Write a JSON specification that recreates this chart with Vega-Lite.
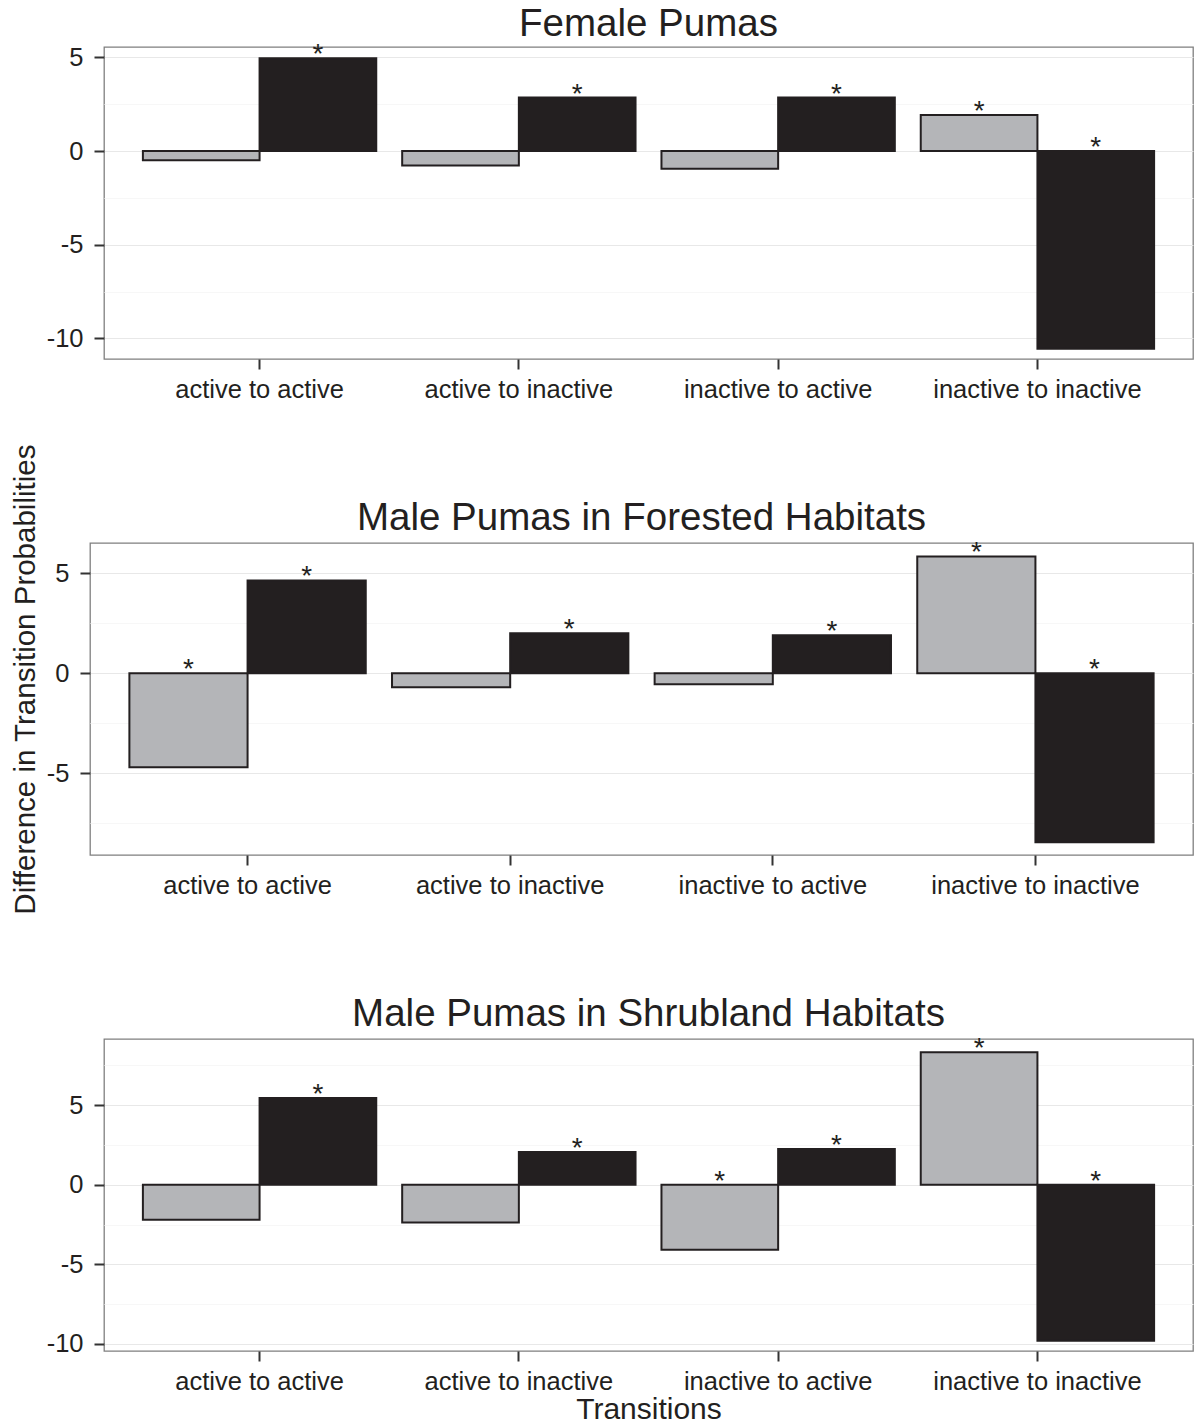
{
  "$schema": "https://vega.github.io/schema/vega-lite/v6.json",
  "padding": {"left": 10, "top": 4, "right": 5, "bottom": 0},
  "title": {"text": "Difference in Transition Probabilities", "orient": "left", "anchor": "middle", "fontSize": 29.5, "offset": -20, "dx": 35, "baseline": "alphabetic", "frame": "bounds"},
  "datasets": {
    "pumas": [
      {"panel": "Female Pumas", "transition": "active to active", "group": "first", "value": -0.5, "sig": ""},
      {"panel": "Female Pumas", "transition": "active to active", "group": "second", "value": 4.95, "sig": "*"},
      {"panel": "Female Pumas", "transition": "active to inactive", "group": "first", "value": -0.78, "sig": ""},
      {"panel": "Female Pumas", "transition": "active to inactive", "group": "second", "value": 2.85, "sig": "*"},
      {"panel": "Female Pumas", "transition": "inactive to active", "group": "first", "value": -0.95, "sig": ""},
      {"panel": "Female Pumas", "transition": "inactive to active", "group": "second", "value": 2.85, "sig": "*"},
      {"panel": "Female Pumas", "transition": "inactive to inactive", "group": "first", "value": 1.92, "sig": "*"},
      {"panel": "Female Pumas", "transition": "inactive to inactive", "group": "second", "value": -10.55, "sig": "*"},
      {"panel": "Male Pumas in Forested Habitats", "transition": "active to active", "group": "first", "value": -4.7, "sig": "*"},
      {"panel": "Male Pumas in Forested Habitats", "transition": "active to active", "group": "second", "value": 4.65, "sig": "*"},
      {"panel": "Male Pumas in Forested Habitats", "transition": "active to inactive", "group": "first", "value": -0.7, "sig": ""},
      {"panel": "Male Pumas in Forested Habitats", "transition": "active to inactive", "group": "second", "value": 2.0, "sig": "*"},
      {"panel": "Male Pumas in Forested Habitats", "transition": "inactive to active", "group": "first", "value": -0.55, "sig": ""},
      {"panel": "Male Pumas in Forested Habitats", "transition": "inactive to active", "group": "second", "value": 1.9, "sig": "*"},
      {"panel": "Male Pumas in Forested Habitats", "transition": "inactive to inactive", "group": "first", "value": 5.85, "sig": "*"},
      {"panel": "Male Pumas in Forested Habitats", "transition": "inactive to inactive", "group": "second", "value": -8.45, "sig": "*"},
      {"panel": "Male Pumas in Shrubland Habitats", "transition": "active to active", "group": "first", "value": -2.2, "sig": ""},
      {"panel": "Male Pumas in Shrubland Habitats", "transition": "active to active", "group": "second", "value": 5.45, "sig": "*"},
      {"panel": "Male Pumas in Shrubland Habitats", "transition": "active to inactive", "group": "first", "value": -2.37, "sig": ""},
      {"panel": "Male Pumas in Shrubland Habitats", "transition": "active to inactive", "group": "second", "value": 2.06, "sig": "*"},
      {"panel": "Male Pumas in Shrubland Habitats", "transition": "inactive to active", "group": "first", "value": -4.08, "sig": "*"},
      {"panel": "Male Pumas in Shrubland Habitats", "transition": "inactive to active", "group": "second", "value": 2.25, "sig": "*"},
      {"panel": "Male Pumas in Shrubland Habitats", "transition": "inactive to inactive", "group": "first", "value": 8.33, "sig": "*"},
      {"panel": "Male Pumas in Shrubland Habitats", "transition": "inactive to inactive", "group": "second", "value": -9.8, "sig": "*"}
    ]
  },
  "concat": [
    {
      "spacing": 0,
      "hconcat": [
        {"width": 1, "height": 1, "data": {"values": []}, "mark": "point", "view": {"stroke": null}},
        {
          "title": {"text": "Female Pumas", "offset": -3},
          "width": 1089,
          "height": 312,
          "data": {"name": "pumas"},
          "transform": [
            {"filter": "datum.panel === 'Female Pumas'"},
            {"calculate": "max(datum.value, 0)", "as": "ylab"}
          ],
          "encoding": {
            "x": {"field": "transition", "type": "nominal", "sort": ["active to active", "active to inactive", "inactive to active", "inactive to inactive"], "scale": {"paddingInner": 0.1, "paddingOuter": 0.15}, "axis": {"title": null, "labelAngle": 0, "labelPadding": 8}},
            "xOffset": {"field": "group", "type": "nominal", "sort": ["first", "second"], "scale": {"paddingInner": 0, "paddingOuter": 0}}
          },
          "layer": [
            {
              "mark": {"type": "bar", "stroke": "#231F20", "strokeWidth": 2},
              "encoding": {
                "y": {"field": "value", "type": "quantitative", "scale": {"domain": [-11.1, 5.55], "nice": false}, "axis": {"title": null, "values": [-10, -7.5, -5, -2.5, 0, 2.5, 5], "labelExpr": "datum.value % 5 === 0 ? '' + datum.value : ''", "tickOpacity": {"condition": {"test": "datum.value % 5 !== 0", "value": 0}, "value": 1}, "gridColor": {"condition": {"test": "datum.value % 5 !== 0", "value": "#F7F7F7"}, "value": "#E8E8E8"}, "labelPadding": 11}},
                "fill": {"field": "group", "type": "nominal", "scale": {"domain": ["first", "second"], "range": ["#B4B5B8", "#231F20"]}, "legend": null}
              }
            },
            {
              "transform": [{"filter": "datum.sig === '*'"}],
              "mark": {"type": "text", "fontSize": 28, "baseline": "alphabetic", "dy": 5, "color": "#231F20"},
              "encoding": {
                "y": {"field": "ylab", "type": "quantitative", "scale": {"domain": [-11.1, 5.55], "nice": false}},
                "text": {"field": "sig"}
              }
            }
          ]
        }
      ]
    },
    {
      "spacing": 0,
      "hconcat": [
        {"width": 1, "height": 1, "data": {"values": []}, "mark": "point", "view": {"stroke": null}},
        {
          "title": "Male Pumas in Forested Habitats",
          "width": 1103,
          "height": 312,
          "data": {"name": "pumas"},
          "transform": [
            {"filter": "datum.panel === 'Male Pumas in Forested Habitats'"},
            {"calculate": "max(datum.value, 0)", "as": "ylab"}
          ],
          "encoding": {
            "x": {"field": "transition", "type": "nominal", "sort": ["active to active", "active to inactive", "inactive to active", "inactive to inactive"], "scale": {"paddingInner": 0.1, "paddingOuter": 0.15}, "axis": {"title": null, "labelAngle": 0, "labelPadding": 8}},
            "xOffset": {"field": "group", "type": "nominal", "sort": ["first", "second"], "scale": {"paddingInner": 0, "paddingOuter": 0}}
          },
          "layer": [
            {
              "mark": {"type": "bar", "stroke": "#231F20", "strokeWidth": 2},
              "encoding": {
                "y": {"field": "value", "type": "quantitative", "scale": {"domain": [-9.09, 6.52], "nice": false}, "axis": {"title": null, "values": [-7.5, -5, -2.5, 0, 2.5, 5], "labelExpr": "datum.value % 5 === 0 ? '' + datum.value : ''", "tickOpacity": {"condition": {"test": "datum.value % 5 !== 0", "value": 0}, "value": 1}, "gridColor": {"condition": {"test": "datum.value % 5 !== 0", "value": "#F7F7F7"}, "value": "#E8E8E8"}, "labelPadding": 11}},
                "fill": {"field": "group", "type": "nominal", "scale": {"domain": ["first", "second"], "range": ["#B4B5B8", "#231F20"]}, "legend": null}
              }
            },
            {
              "transform": [{"filter": "datum.sig === '*'"}],
              "mark": {"type": "text", "fontSize": 28, "baseline": "alphabetic", "dy": 5, "color": "#231F20"},
              "encoding": {
                "y": {"field": "ylab", "type": "quantitative", "scale": {"domain": [-9.09, 6.52], "nice": false}},
                "text": {"field": "sig"}
              }
            }
          ]
        }
      ]
    },
    {
      "spacing": 0,
      "hconcat": [
        {"width": 1, "height": 1, "data": {"values": []}, "mark": "point", "view": {"stroke": null}},
        {
          "title": "Male Pumas in Shrubland Habitats",
          "width": 1089,
          "height": 312,
          "data": {"name": "pumas"},
          "transform": [
            {"filter": "datum.panel === 'Male Pumas in Shrubland Habitats'"},
            {"calculate": "max(datum.value, 0)", "as": "ylab"}
          ],
          "encoding": {
            "x": {"field": "transition", "type": "nominal", "sort": ["active to active", "active to inactive", "inactive to active", "inactive to inactive"], "scale": {"paddingInner": 0.1, "paddingOuter": 0.15}, "axis": {"title": "Transitions", "labelAngle": 0, "labelPadding": 8, "titlePadding": 0, "titleFontSize": 30}},
            "xOffset": {"field": "group", "type": "nominal", "sort": ["first", "second"], "scale": {"paddingInner": 0, "paddingOuter": 0}}
          },
          "layer": [
            {
              "mark": {"type": "bar", "stroke": "#231F20", "strokeWidth": 2},
              "encoding": {
                "y": {"field": "value", "type": "quantitative", "scale": {"domain": [-10.44, 9.16], "nice": false}, "axis": {"title": null, "values": [-10, -7.5, -5, -2.5, 0, 2.5, 5, 7.5], "labelExpr": "datum.value % 5 === 0 ? '' + datum.value : ''", "tickOpacity": {"condition": {"test": "datum.value % 5 !== 0", "value": 0}, "value": 1}, "gridColor": {"condition": {"test": "datum.value % 5 !== 0", "value": "#F7F7F7"}, "value": "#E8E8E8"}, "labelPadding": 11}},
                "fill": {"field": "group", "type": "nominal", "scale": {"domain": ["first", "second"], "range": ["#B4B5B8", "#231F20"]}, "legend": null}
              }
            },
            {
              "transform": [{"filter": "datum.sig === '*'"}],
              "mark": {"type": "text", "fontSize": 28, "baseline": "alphabetic", "dy": 5, "color": "#231F20"},
              "encoding": {
                "y": {"field": "ylab", "type": "quantitative", "scale": {"domain": [-10.44, 9.16], "nice": false}},
                "text": {"field": "sig"}
              }
            }
          ]
        }
      ]
    }
  ],
  "columns": 1,
  "align": "none",
  "spacing": 94,
  "resolve": {"scale": {"x": "independent", "y": "independent", "xOffset": "independent"}},
  "config": {
    "font": "Liberation Sans",
    "view": {"stroke": "#7F7F7F", "strokeWidth": 1.3},
    "axis": {"labelFont": "Liberation Sans", "labelFontSize": 25.5, "labelLimit": 0, "labelColor": "#231F20", "tickColor": "#333333", "tickSize": 10, "tickWidth": 2, "domain": false, "gridColor": "#E8E8E8", "gridWidth": 1.2, "titleFont": "Liberation Sans", "titleFontSize": 31, "titleFontWeight": "normal", "titleColor": "#231F20"},
    "title": {"font": "Liberation Sans", "fontSize": 38.5, "fontWeight": "normal", "color": "#231F20", "frame": "group", "anchor": "middle", "baseline": "alphabetic", "offset": 1}
  }
}
